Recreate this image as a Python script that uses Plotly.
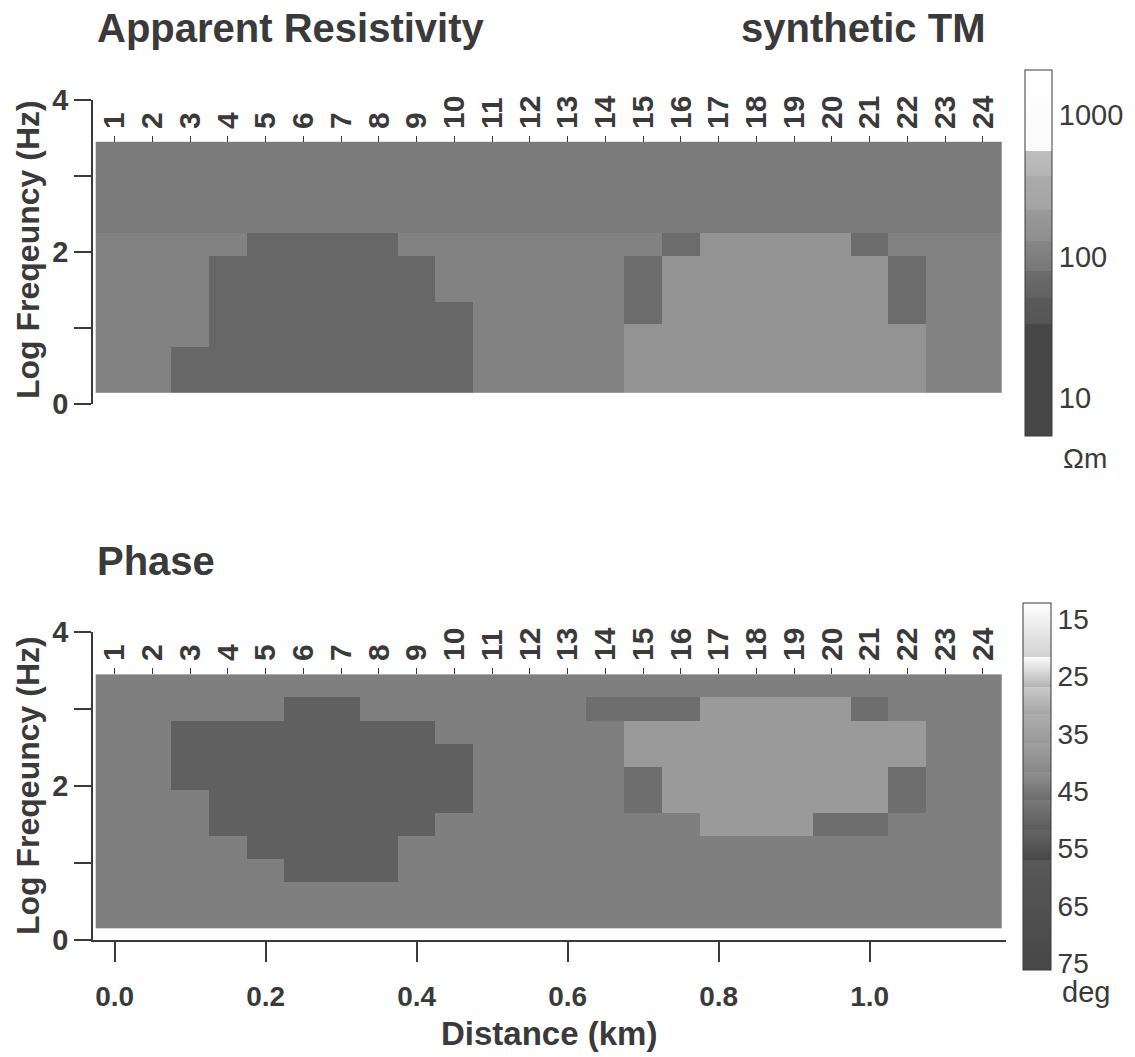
import numpy as np
import plotly.graph_objects as go

# ---------------- data ----------------
station_labels = ["1", "2", "3", "4", "5", "6", "7", "8", "9", "10", "11", "12",
                  "13", "14", "15", "16", "17", "18", "19", "20", "21", "22", "23", "24"]
station_km = [0.00, 0.05, 0.10, 0.15, 0.20, 0.25, 0.30, 0.35, 0.40, 0.45, 0.50, 0.55,
              0.60, 0.65, 0.70, 0.75, 0.80, 0.85, 0.90, 0.95, 1.00, 1.05, 1.10, 1.15]
log_freq = [0.3, 0.6, 0.9, 1.2, 1.5, 1.8, 2.1, 2.4, 2.7, 3.0, 3.3]

# apparent resistivity (ohm-m), rows = log_freq (low -> high), cols = stations 1..24
rho_apparent = [
    [112, 112, 63, 63, 63, 63, 63, 63, 63, 63, 112, 112, 112, 112, 158, 158, 158, 158, 158, 158, 158, 158, 112, 112],
    [112, 112, 63, 63, 63, 63, 63, 63, 63, 63, 112, 112, 112, 112, 158, 158, 158, 158, 158, 158, 158, 158, 112, 112],
    [112, 112, 112, 63, 63, 63, 63, 63, 63, 63, 112, 112, 112, 112, 158, 158, 158, 158, 158, 158, 158, 158, 112, 112],
    [112, 112, 112, 63, 63, 63, 63, 63, 63, 63, 112, 112, 112, 112, 78, 158, 158, 158, 158, 158, 158, 78, 112, 112],
    [112, 112, 112, 63, 63, 63, 63, 63, 63, 112, 112, 112, 112, 112, 78, 158, 158, 158, 158, 158, 158, 78, 112, 112],
    [112, 112, 112, 63, 63, 63, 63, 63, 63, 112, 112, 112, 112, 112, 78, 158, 158, 158, 158, 158, 158, 78, 112, 112],
    [112, 112, 112, 112, 63, 63, 63, 63, 112, 112, 112, 112, 112, 112, 112, 78, 158, 158, 158, 158, 78, 112, 112, 112],
    [89, 89, 89, 89, 89, 89, 89, 89, 89, 89, 89, 89, 89, 89, 89, 89, 89, 89, 89, 89, 89, 89, 89, 89],
    [89, 89, 89, 89, 89, 89, 89, 89, 89, 89, 89, 89, 89, 89, 89, 89, 89, 89, 89, 89, 89, 89, 89, 89],
    [89, 89, 89, 89, 89, 89, 89, 89, 89, 89, 89, 89, 89, 89, 89, 89, 89, 89, 89, 89, 89, 89, 89, 89],
    [89, 89, 89, 89, 89, 89, 89, 89, 89, 89, 89, 89, 89, 89, 89, 89, 89, 89, 89, 89, 89, 89, 89, 89],
]

# phase (deg)
phase_deg = [
    [44, 44, 44, 44, 44, 44, 44, 44, 44, 44, 44, 44, 44, 44, 44, 44, 44, 44, 44, 44, 44, 44, 44, 44],
    [44, 44, 44, 44, 44, 44, 44, 44, 44, 44, 44, 44, 44, 44, 44, 44, 44, 44, 44, 44, 44, 44, 44, 44],
    [44, 44, 44, 44, 44, 51, 51, 51, 44, 44, 44, 44, 44, 44, 44, 44, 44, 44, 44, 44, 44, 44, 44, 44],
    [44, 44, 44, 44, 51, 51, 51, 51, 44, 44, 44, 44, 44, 44, 44, 44, 44, 44, 44, 44, 44, 44, 44, 44],
    [44, 44, 44, 51, 51, 51, 51, 51, 51, 44, 44, 44, 44, 44, 44, 44, 38, 38, 38, 46.3, 46.3, 44, 44, 44],
    [44, 44, 44, 51, 51, 51, 51, 51, 51, 51, 44, 44, 44, 44, 46.3, 38, 38, 38, 38, 38, 38, 46.3, 44, 44],
    [44, 44, 51, 51, 51, 51, 51, 51, 51, 51, 44, 44, 44, 44, 46.3, 38, 38, 38, 38, 38, 38, 46.3, 44, 44],
    [44, 44, 51, 51, 51, 51, 51, 51, 51, 51, 44, 44, 44, 44, 38, 38, 38, 38, 38, 38, 38, 38, 44, 44],
    [44, 44, 51, 51, 51, 51, 51, 51, 51, 44, 44, 44, 44, 44, 38, 38, 38, 38, 38, 38, 38, 38, 44, 44],
    [44, 44, 44, 44, 44, 51, 51, 44, 44, 44, 44, 44, 44, 46.3, 46.3, 46.3, 38, 38, 38, 38, 46.3, 44, 44, 44],
    [44, 44, 44, 44, 44, 44, 44, 44, 44, 44, 44, 44, 44, 44, 44, 44, 44, 44, 44, 44, 44, 44, 44, 44],
]

rho_ticks = [1, 2, 3]
rho_ticktext = ["10", "100", "1000"]
phase_ticks = [15, 25, 35, 45, 55, 65, 75]
dist_ticks = [0.0, 0.2, 0.4, 0.6, 0.8, 1.0]
freq_ticks = [0, 1, 2, 3, 4]
freq_ticktext = ["0", "", "2", "", "4"]

# ---------------- styling ----------------
W, H = 1135, 1057
FONT = "Liberation Sans"
TXT = "#3a3a3a"
LINE = "#3a3a3a"

def px_x(p):
    return p / W

def px_y(p):
    return 1 - p / H

# stepped grey colour bands (value edges, (low colour, high colour))
rho_edges = [0.73, 1.52, 1.71, 1.90, 2.11, 2.33, 2.57, 2.75, 3.32]
rho_cols = [(0x47, 0x47), (0x55, 0x5a), (0x62, 0x6c), (0x78, 0x86),
            (0x8e, 0x9a), (0xa3, 0xab), (0xb5, 0xbd), (0xfa, 0xff)]
ph_edges = [12.2, 21.6, 26.8, 31.5, 36.7, 41.6, 46.6, 51.8, 57.1, 76.2]
ph_cols = [(0xff, 0xfc), (0xd2, 0xca), (0xb4, 0xae), (0xa6, 0xa0), (0x99, 0x91),
           (0x88, 0x78), (0x6c, 0x64), (0x5c, 0x58), (0x47, 0x47)]

def g(v):
    return f"rgb({v},{v},{v})"

rho_lo, rho_hi = rho_edges[0], rho_edges[-1]
rho_cs = []
for i, (a, b) in enumerate(zip(rho_edges[:-1], rho_edges[1:])):
    rho_cs.append([(a - rho_lo) / (rho_hi - rho_lo), g(rho_cols[i][0])])
    rho_cs.append([(b - rho_lo) / (rho_hi - rho_lo), g(rho_cols[i][1])])

# phase is shown with 15 deg at the top of its bar, so the colour axis runs on -phase
ph_lo, ph_hi = ph_edges[0], ph_edges[-1]
ph_cs = []
for i, (a, b) in enumerate(zip(ph_edges[:-1], ph_edges[1:])):
    ph_cs.append([(ph_hi - b) / (ph_hi - ph_lo), g(ph_cols[i][1])])
    ph_cs.append([(ph_hi - a) / (ph_hi - ph_lo), g(ph_cols[i][0])])
ph_cs.sort(key=lambda t: t[0])

fig = go.Figure()

fig.add_trace(go.Heatmap(
    x=station_km, y=log_freq, z=np.log10(np.array(rho_apparent, dtype=float)),
    zmin=rho_lo, zmax=rho_hi, colorscale=rho_cs, xaxis="x", yaxis="y",
    hoverinfo="skip",
    colorbar=dict(x=px_x(1025), xanchor="left", xpad=0,
                  y=px_y(70), yanchor="top", ypad=0,
                  len=366 / H, lenmode="fraction", thickness=27,
                  outlinewidth=1, outlinecolor=LINE,
                  tickvals=rho_ticks, ticktext=rho_ticktext, ticks="",
                  tickfont=dict(family=FONT, size=29, color=TXT)),
))

fig.add_trace(go.Heatmap(
    x=station_km, y=log_freq, z=-np.array(phase_deg, dtype=float),
    zmin=-ph_hi, zmax=-ph_lo, colorscale=ph_cs, xaxis="x2", yaxis="y2",
    hoverinfo="skip",
    colorbar=dict(x=px_x(1023), xanchor="left", xpad=0,
                  y=px_y(603), yanchor="top", ypad=0,
                  len=367 / H, lenmode="fraction", thickness=28,
                  outlinewidth=1, outlinecolor=LINE,
                  tickvals=[-t for t in phase_ticks], ticktext=[str(t) for t in phase_ticks],
                  ticks="",
                  tickfont=dict(family=FONT, size=28, color=TXT)),
))

# invisible traces so the station axes exist
fig.add_trace(go.Scatter(x=station_km, y=[None] * len(station_km), xaxis="x3", yaxis="y",
                         showlegend=False, hoverinfo="skip"))
fig.add_trace(go.Scatter(x=station_km, y=[None] * len(station_km), xaxis="x4", yaxis="y2",
                         showlegend=False, hoverinfo="skip"))

xr = [(93 - 114.6) / 755, (1006 - 114.6) / 755]
xdom = [px_x(93), px_x(1006)]

yax = dict(range=[0, 4], tickvals=freq_ticks, ticktext=freq_ticktext,
           ticks="outside", ticklen=17, tickwidth=1.5, tickcolor=LINE,
           showline=True, linecolor=LINE, linewidth=1.5, showgrid=False, zeroline=False,
           tickfont=dict(family=FONT, size=29, color=TXT, weight="bold"),
           ticklabelstandoff=0)

stax = dict(side="top", anchor="free", range=xr, tickvals=station_km, ticktext=station_labels,
            tickangle=-90, ticks="outside", ticklen=6, tickwidth=1, tickcolor=LINE,
            showline=False, showgrid=False, zeroline=False,
            tickfont=dict(family=FONT, size=30, color=TXT, weight="bold"),
            ticklabelstandoff=1)

fig.update_layout(
    width=W, height=H, margin=dict(l=0, r=0, t=0, b=0, autoexpand=False),
    paper_bgcolor="white", plot_bgcolor="white", showlegend=False,
    xaxis=dict(domain=xdom, range=xr, anchor="y", showline=False, showticklabels=False,
               ticks="", showgrid=False, zeroline=False),
    yaxis=dict(domain=[px_y(404), px_y(100)], anchor="x", **yax),
    xaxis2=dict(domain=xdom, range=xr, anchor="y2", showline=True, linecolor=LINE, linewidth=1.5,
                tickvals=dist_ticks, tickformat=".1f", ticks="outside", ticklen=20,
                tickwidth=1.5, tickcolor=LINE, showgrid=False, zeroline=False,
                tickfont=dict(family=FONT, size=28, color=TXT, weight="bold"),
                ticklabelstandoff=11),
    yaxis2=dict(domain=[px_y(940), px_y(632)], anchor="x2", **yax),
    xaxis3=dict(overlaying="x", position=px_y(142), **stax),
    xaxis4=dict(overlaying="x2", position=px_y(674), **stax),
)

def ann(text, x, y, size, xanchor="left", angle=0, bold=True):
    fig.add_annotation(text=f"<b>{text}</b>" if bold else text, x=x, y=y,
                       xref="paper", yref="paper", xanchor=xanchor, yanchor="middle",
                       showarrow=False, textangle=angle,
                       font=dict(family=FONT, size=size, color=TXT))

ann("Apparent Resistivity", px_x(95), px_y(28), 40)
ann("synthetic TM", px_x(987), px_y(28), 40, xanchor="right")
ann("Phase", px_x(95), px_y(561), 40)
ann("Log Freqeuncy (Hz)", px_x(28), px_y(250), 32, xanchor="center", angle=-90)
ann("Log Freqeuncy (Hz)", px_x(28), px_y(786), 32, xanchor="center", angle=-90)
ann("Distance (km)", px_x(549), px_y(1033), 33, xanchor="center")
ann("Ωm", px_x(1061), px_y(458), 28, bold=False)
ann("deg", px_x(1060), px_y(992), 29, bold=False)

fig.write_html("out.html")
